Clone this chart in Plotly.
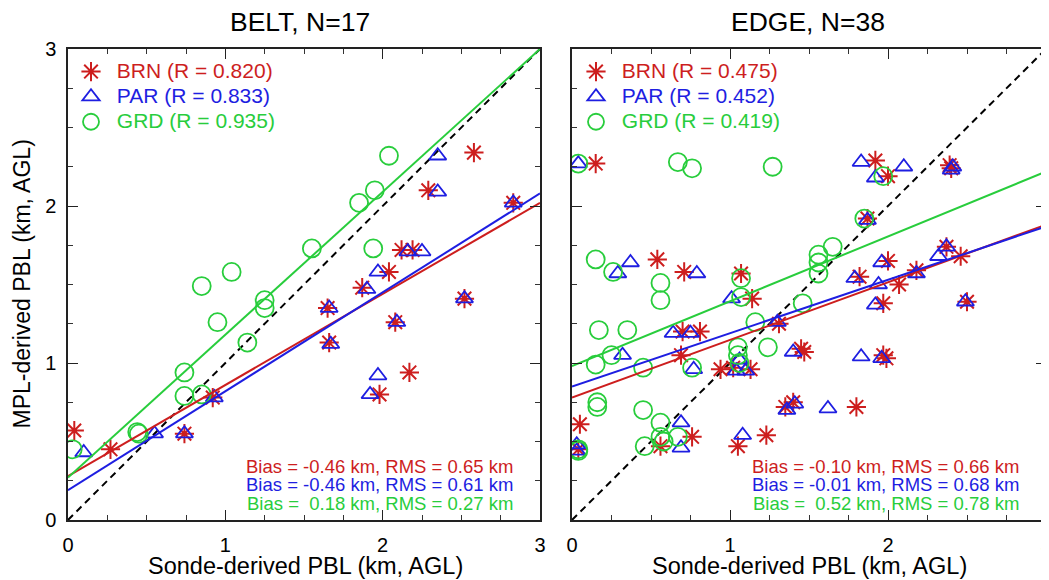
import plotly.graph_objects as go

# ---------------- data ----------------
panel_titles = ["BELT, N=17", "EDGE, N=38"]
method_names = ["BRN", "PAR", "GRD"]
colors = ["rgb(205,30,30)", "rgb(30,30,225)", "rgb(40,205,60)"]
symbols = ["asterisk-open", "triangle-up-open", "circle-open"]

belt_brn_x = [0.04, 0.27, 0.74, 0.92, 1.65, 1.66, 1.87, 1.98, 2.04, 2.08, 2.12, 2.19, 2.17, 2.29, 2.52, 2.58, 2.83]
belt_brn_y = [0.57, 0.45, 0.55, 0.78, 1.35, 1.13, 1.48, 0.80, 1.58, 1.26, 1.72, 1.72, 0.94, 2.10, 1.41, 2.34, 2.02]
belt_par_x = [0.10, 0.55, 0.74, 0.93, 1.66, 1.67, 1.90, 1.92, 1.97, 1.97, 2.09, 2.16, 2.25, 2.35, 2.35, 2.52, 2.83]
belt_par_y = [0.43, 0.55, 0.55, 0.78, 1.35, 1.12, 1.47, 0.80, 0.92, 1.58, 1.26, 1.71, 1.71, 2.09, 2.32, 1.41, 2.02]
belt_grd_x = [0.03, 0.44, 0.45, 0.74, 0.74, 0.85, 0.95, 0.85, 1.04, 1.14, 1.25, 1.25, 1.55, 1.85, 1.95, 1.94, 2.04]
belt_grd_y = [0.45, 0.56, 0.55, 0.94, 0.79, 0.80, 1.26, 1.49, 1.58, 1.13, 1.40, 1.35, 1.73, 2.02, 2.10, 1.73, 2.32]

edge_brn_x = [0.15, 1.92, 2.00, 2.39, 2.40, 1.87, 0.54, 0.71, 1.07, 2.00, 2.37, 2.46, 1.82, 2.18, 1.14, 2.07, 1.97, 2.50, 0.70, 0.81,
              0.69, 1.31, 0.94, 1.02, 1.13, 1.45, 1.47, 1.97, 1.99, 1.35, 1.40, 1.80, 0.05, 0.04, 0.56, 0.76, 1.05, 1.23]
edge_brn_y = [2.27, 2.29, 2.19, 2.26, 2.24, 1.92, 1.66, 1.58, 1.57, 1.65, 1.74, 1.68, 1.55, 1.59, 1.41, 1.50, 1.38, 1.39, 1.20, 1.20,
              1.05, 1.25, 0.96, 0.97, 0.96, 1.09, 1.07, 1.05, 1.03, 0.72, 0.75, 0.72, 0.61, 0.45, 0.47, 0.53, 0.47, 0.54]
edge_par_x = [0.04, 1.83, 1.92, 2.10, 2.40, 1.87, 0.37, 0.79, 1.96, 2.37, 2.32, 1.79, 2.18, 0.29, 1.01, 1.94, 1.92, 2.49, 0.64, 0.75,
              0.32, 0.77, 1.30, 1.04, 1.10, 1.06, 1.40, 1.83, 1.96, 1.36, 1.41, 1.62, 0.03, 0.69, 0.69, 1.08, 0.03, 2.41]
edge_par_y = [2.27, 2.28, 2.18, 2.25, 2.23, 1.91, 1.64, 1.57, 1.64, 1.74, 1.68, 1.54, 1.57, 1.57, 1.41, 1.50, 1.37, 1.39, 1.19, 1.19,
              1.05, 0.96, 1.26, 0.95, 0.95, 1.02, 1.07, 1.04, 1.03, 0.70, 0.74, 0.71, 0.48, 0.62, 0.46, 0.54, 0.44, 2.25]
edge_grd_x = [0.04, 0.67, 0.76, 1.27, 1.97, 1.85, 0.15, 0.26, 0.56, 0.56, 1.56, 1.56, 1.65, 1.56, 1.07, 1.07, 1.46, 0.17, 0.35, 0.25,
              0.15, 0.45, 0.76, 1.16, 1.05, 1.05, 1.24, 0.16, 0.16, 0.45, 0.04, 0.56, 0.56, 0.46, 0.67, 0.04, 1.06, 0.58]
edge_grd_y = [2.27, 2.28, 2.24, 2.25, 2.19, 1.92, 1.66, 1.58, 1.51, 1.40, 1.69, 1.64, 1.74, 1.57, 1.54, 1.42, 1.38, 1.21, 1.21, 1.05,
              0.99, 0.97, 0.97, 1.26, 1.10, 1.05, 1.10, 0.75, 0.72, 0.70, 0.45, 0.62, 0.53, 0.47, 0.53, 0.44, 1.00, 0.50]

# regression fit lines: intercept, slope (BRN, PAR, GRD)
belt_fit_a = [0.28, 0.19, 0.27]
belt_fit_b = [0.58, 0.63, 0.91]
edge_fit_a = [0.78, 0.85, 0.98]
edge_fit_b = [0.367, 0.34, 0.413]

belt_r = ["0.820", "0.833", "0.935"]
edge_r = ["0.475", "0.452", "0.419"]
belt_stats = ["Bias = -0.46 km, RMS = 0.65 km",
              "Bias = -0.46 km, RMS = 0.61 km",
              "Bias =\u00a0 0.18 km, RMS = 0.27 km"]
edge_stats = ["Bias = -0.10 km, RMS = 0.66 km",
              "Bias = -0.01 km, RMS = 0.68 km",
              "Bias =\u00a0 0.52 km, RMS = 0.78 km"]

x_title = "Sonde-derived PBL (km, AGL)"
y_title = "MPL-derived PBL (km, AGL)"
axis_range = [0, 3]
tick_vals = [0, 1, 2, 3]
tick_text = ["0", "1", "2", "3"]

# ---------------- figure ----------------
# The page body has an 8px margin; positions below are given in page pixels
OFF = 8
W, H = 1049, 580 - OFF
FONT = "Liberation Sans, Arial, sans-serif"


def fx(px):
    return (px - OFF) / W


def fy(py):
    return 1 - (py - OFF) / H


fig = go.Figure()

panels = [
    dict(xs=[belt_brn_x, belt_par_x, belt_grd_x], ys=[belt_brn_y, belt_par_y, belt_grd_y],
         a=belt_fit_a, b=belt_fit_b, r=belt_r, stats=belt_stats, xa="x", ya="y", leg="legend"),
    dict(xs=[edge_brn_x, edge_par_x, edge_grd_x], ys=[edge_brn_y, edge_par_y, edge_grd_y],
         a=edge_fit_a, b=edge_fit_b, r=edge_r, stats=edge_stats, xa="x2", ya="y2", leg="legend2"),
]

msizes = [16, 15, 18]
mwidths = [2.0, 1.8, 1.8]

for p in panels:
    # 1:1 line
    fig.add_trace(go.Scatter(x=axis_range, y=axis_range, mode="lines", xaxis=p["xa"], yaxis=p["ya"],
                             line=dict(color="black", width=2, dash="7px,5px"), showlegend=False,
                             hoverinfo="skip"))
    for i in range(3):
        fig.add_trace(go.Scatter(
            x=p["xs"][i], y=p["ys"][i], mode="markers", xaxis=p["xa"], yaxis=p["ya"],
            marker=dict(symbol=symbols[i], size=msizes[i], color=colors[i],
                        line=dict(color=colors[i], width=mwidths[i])),
            name="<span style='color:%s;font-size:21px'>\u00a0%s (R = %s)</span>" % (colors[i], method_names[i], p["r"][i]),
            legend=p["leg"]))
    for i in range(3):
        lx = axis_range
        ly = [p["a"][i] + p["b"][i] * v for v in lx]
        fig.add_trace(go.Scatter(x=lx, y=ly, mode="lines", xaxis=p["xa"], yaxis=p["ya"],
                                 line=dict(color=colors[i], width=2), showlegend=False, hoverinfo="skip"))

# plot areas in page pixels
left_px = [68, 572]
right_px = [540, 1046]
top_px, bot_px = 49, 520
ydom = [fy(bot_px), fy(top_px)]

axis_common = dict(range=axis_range, showgrid=False, zeroline=False, showline=True, automargin=False,
                   linecolor="#222", linewidth=1.5, mirror="ticks", ticks="inside", ticklen=10,
                   tickwidth=1.2, tickcolor="#222", tickvals=tick_vals, ticktext=tick_text,
                   tickfont=dict(family=FONT, size=20, color="black"),
                   minor=dict(dtick=0.25, ticks="inside", ticklen=5, tickwidth=1.1, tickcolor="#333"))

leg_common = dict(xanchor="left", yanchor="top", bgcolor="rgba(0,0,0,0)",
                  font=dict(family=FONT, size=17), tracegroupgap=0, itemclick=False)

fig.update_layout(
    template="none",
    width=W, height=H, margin=dict(l=0, r=0, t=0, b=0, autoexpand=False),
    paper_bgcolor="white", plot_bgcolor="white",
    xaxis=dict(axis_common, domain=[fx(left_px[0]), fx(right_px[0])], anchor="y", ticklabelstandoff=6),
    yaxis=dict(axis_common, domain=ydom, anchor="x", ticklabelstandoff=6),
    xaxis2=dict(axis_common, domain=[fx(left_px[1]), fx(right_px[1])], anchor="y2", ticklabelstandoff=6),
    yaxis2=dict(axis_common, domain=ydom, anchor="x2", showticklabels=False),
    legend=dict(leg_common, x=fx(71), y=fy(54)),
    legend2=dict(leg_common, x=fx(576), y=fy(54)),
)

title_cx = [300, 808]
xtitle_cx = [305, 809]
anns = []
for k in range(2):
    anns.append(dict(text=panel_titles[k], x=fx(title_cx[k]), y=fy(22), xref="paper", yref="paper",
                     showarrow=False, xanchor="center", yanchor="middle",
                     font=dict(family=FONT, size=26.5, color="black")))
    anns.append(dict(text=x_title, x=fx(xtitle_cx[k]), y=fy(566), xref="paper", yref="paper",
                     showarrow=False, xanchor="center", yanchor="middle",
                     font=dict(family=FONT, size=23.5, color="black")))
anns.append(dict(text=y_title, x=fx(22), y=fy((top_px + bot_px) / 2), xref="paper", yref="paper",
                 showarrow=False, textangle=-90, xanchor="center", yanchor="middle",
                 font=dict(family=FONT, size=23, color="black")))

stat_y = [0.338, 0.223, 0.108]
for p in panels:
    for i in range(3):
        anns.append(dict(text=p["stats"][i], x=2.84, y=stat_y[i], xref=p["xa"], yref=p["ya"],
                         showarrow=False, xanchor="right", yanchor="middle",
                         font=dict(family=FONT, size=18.5, color=colors[i])))
fig.update_layout(annotations=anns)

fig.write_html("out.html")
